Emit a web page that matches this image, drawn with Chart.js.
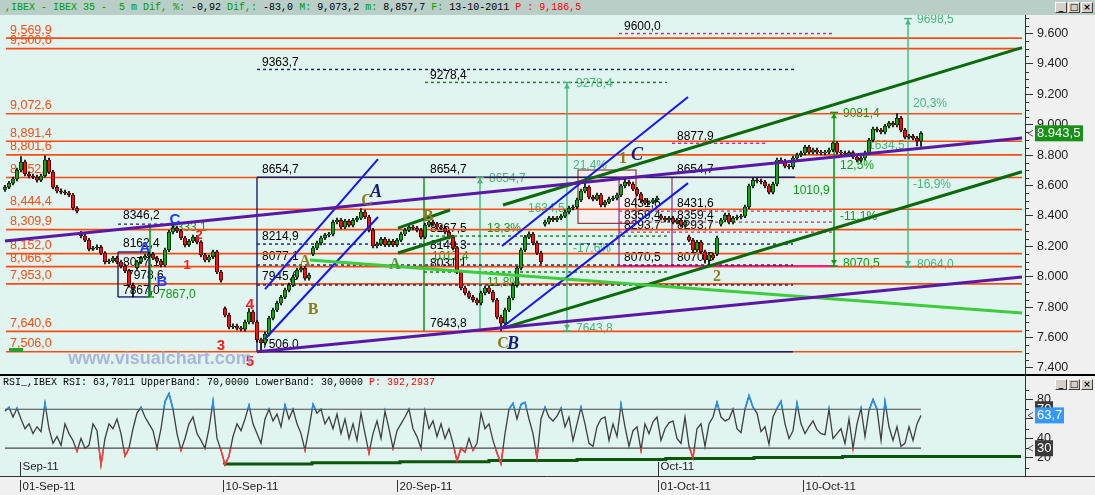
<!DOCTYPE html>
<html>
<head>
<meta charset="utf-8">
<title>IBEX 35 - 5 m</title>
<script src="https://cdn.jsdelivr.net/npm/chart.js@4.4.1/dist/chart.umd.min.js"></script>
<style>
  html,body{margin:0;padding:0;background:#f0f0f0;}
  #frame{position:relative;width:1095px;height:495px;overflow:hidden;background:#f0f0f0;}
  #topbar{position:absolute;left:0;top:0;width:1095px;height:15px;background:#b8cec7;}
  .mono{position:absolute;font-family:"Liberation Mono","DejaVu Sans Mono",monospace;font-size:10px;line-height:12px;white-space:pre;}
  #mainTitle{left:5px;top:2px;}
  #rsiTitle{left:3px;top:377px;color:#000;}
  .g{color:#009a00}.k{color:#000}.r{color:#ff0000}
  canvas{position:absolute;left:0;display:block;}
  #mainChart{top:15px;}
  #sep{position:absolute;left:0;top:374px;width:1095px;height:2px;background:#000;}
  #rsiChart{top:376px;}
  #lastMark{position:absolute;left:9px;top:348px;width:14px;height:4px;background:#2aa02a;}
  .btns{position:absolute;display:flex;gap:1px;}
  .btn{width:12px;height:11px;box-sizing:border-box;background:#d4d0c8;border:1px solid;border-color:#fff #404040 #404040 #fff;
       font:bold 9px "DejaVu Sans",sans-serif;line-height:8px;text-align:center;color:#000;}
</style>
</head>
<body>
<div id="frame">
  <div id="topbar"></div>
  <div id="mainTitle" class="mono"><span class="g">,IBEX - IBEX 35 -  5 m Dif, %:</span> <span class="k">-0,92</span> <span class="g">Dif,:</span> <span class="k">-83,0</span> <span class="g">M:</span> <span class="k">9,073,2</span> <span class="g">m:</span> <span class="k">8,857,7</span> <span class="g">F:</span> <span class="k">13-10-2011</span> <span class="r">P : 9,186,5</span></div>
  <div class="btns" style="left:1055px;top:2px;"><div class="btn">_</div><div class="btn">□</div><div class="btn">×</div></div>
  <canvas id="mainChart" width="1095" height="359"></canvas>
  <div id="lastMark"></div>
  <div id="sep"></div>
  <canvas id="rsiChart" width="1095" height="119"></canvas>
  <div id="rsiTitle" class="mono">RSI_,IBEX RSI: 63,7011 UpperBand: 70,0000 LowerBand: 30,0000 <span class="r">P: 392,2937</span></div>
  <div class="btns" style="left:1055px;top:379px;"><div class="btn">_</div><div class="btn">□</div><div class="btn">×</div></div>
</div>
<script>
// ---------- IBEX 35 bars (31 Aug - 13 Oct 2011) ----------
const opens = [
8575,8590,8616,8643,8702,8755,8676,8663,8656,8636,
8663,8768,8689,8590,8564,8557,8551,8538,8452,8285,
8268,8241,8182,8189,8195,8156,8097,8105,8123,8097,
8070,8038,7945,8060,8097,8123,8136,8149,8123,8103,
8077,8176,8294,8320,8301,8255,8209,8235,8261,8228,
8143,8110,8130,8163,8031,7790,7748,7669,7676,7662,
7655,7702,7768,7702,7584,7564,7623,7728,7781,7827,
7866,7912,7945,7998,8044,8057,7991,8150,8189,8222,
8255,8274,8280,8360,8373,8327,8366,8340,8373,8386,
8426,8393,8307,8202,8215,8248,8209,8235,8209,8241,
8281,8307,8327,8320,8307,8261,8340,8360,8347,8327,
8320,8294,8261,8189,8031,7926,7893,7866,7847,7827,
7893,7926,7899,7847,7735,7695,7781,7860,7945,8057,
8176,8261,8281,8222,8156,8345,8360,8386,8373,8386,
8399,8426,8452,8459,8505,8564,8590,8524,8511,8538,
8472,8491,8511,8518,8538,8597,8623,8610,8577,8544,
8505,8485,8491,8505,8400,8386,8373,8386,8360,8373,
8340,8262,8241,8176,8228,8163,8110,8143,8150,8345,
8373,8406,8360,8386,8393,8399,8459,8597,8636,8630,
8623,8597,8557,8610,8768,8760,8728,8722,8781,8801,
8814,8853,8820,8834,8820,8814,8820,8834,8880,8820,
8814,8808,8816,8788,8768,8781,8814,8899,8972,8965,
8952,8991,9011,8998,9044,8965,8919,8925,8912,8893];
const highs = [
8602,8628,8656,8715,8790,8768,8688,8676,8668,8676,
8795,8780,8700,8602,8578,8570,8562,8548,8462,8298,
8280,8252,8200,8210,8206,8166,8116,8135,8134,8108,
8082,8048,7958,8108,8134,8148,8162,8160,8134,8114,
8188,8305,8346,8333,8312,8266,8246,8274,8272,8238,
8154,8142,8176,8174,8042,7802,7760,7690,7688,7674,
7714,7790,7780,7712,7596,7636,7740,7793,7840,7878,
7925,7958,8010,8056,8075,8068,8024,8200,8234,8267,
8286,8292,8372,8386,8384,8378,8378,8385,8398,8448,
8438,8404,8318,8228,8260,8260,8247,8246,8252,8293,
8318,8340,8338,8332,8318,8352,8372,8372,8358,8338,
8332,8306,8272,8200,8042,7938,7905,7878,7860,7905,
7938,7938,7910,7858,7748,7793,7872,7958,8068,8188,
8273,8295,8292,8234,8168,8372,8398,8398,8397,8410,
8438,8464,8471,8517,8576,8615,8600,8536,8550,8549,
8503,8524,8530,8550,8608,8654.7,8635,8622,8588,8556,
8516,8500,8516,8530,8412,8398,8398,8397,8385,8384,
8372,8274,8252,8240,8240,8175,8155,8155,8267,8385,
8418,8418,8398,8405,8411,8471,8609,8648,8648,8642,
8635,8609,8622,8780,8782,8772,8740,8793,8813,8826,
8865,8865,8846,8846,8832,8832,8846,8887,8890,8832,
8826,8828,8828,8800,8793,8826,8911,8984,8984,8977,
9003,9023,9023,9073.2,9056,8977,8937,8937,8924,8955];
const lows = [
8562,8580,8604,8630,8690,8664,8650,8645,8622,8625,
8655,8678,8578,8552,8545,8540,8526,8440,8420,8255,
8230,8170,8172,8178,8145,8085,8086,8094,8086,8058,
8026,7932,7867,8048,8086,8112,8125,8112,8092,8064,
8066,8165,8282,8290,8244,8196,8198,8224,8216,8130,
8098,8098,8118,8020,7965,7736,7656,7658,7650,7643,
7642,7690,7690,7570,7506,7552,7610,7716,7770,7815,
7855,7900,7934,7986,8032,7978,7978,8138,8178,8210,
8244,8262,8268,8348,8315,8316,8328,8328,8362,8375,
8382,8295,8190,8190,8204,8197,8198,8197,8198,8230,
8270,8296,8308,8295,8249,8250,8328,8335,8315,8308,
8282,8249,8176,8020,7914,7880,7855,7835,7815,7815,
7880,7888,7835,7722,7643.8,7684,7770,7848,7932,8045,
8165,8250,8210,8145,8085,8333,8348,8362,8362,8375,
8388,8414,8440,8447,8494,8552,8512,8498,8500,8460,
8460,8480,8500,8506,8526,8585,8598,8566,8532,8493,
8474,8474,8480,8494,8374,8361,8362,8348,8348,8328,
8328,8230,8164,8164,8151,8090,8070.5,8111,8138,8333,
8361,8348,8348,8374,8381,8388,8448,8585,8618,8611,
8585,8545,8545,8598,8748,8716,8710,8710,8769,8790,
8802,8808,8808,8808,8802,8802,8808,8822,8808,8802,
8796,8796,8776,8756,8752,8769,8802,8887,8953,8940,
8940,8979,8986,8986,8953,8907,8907,8900,8860,8857.7];
const closes = [
8590,8616,8643,8702,8755,8676,8663,8656,8636,8663,
8768,8689,8590,8564,8557,8551,8538,8452,8432,8268,
8241,8182,8189,8195,8156,8097,8105,8123,8097,8070,
8038,7945,7926,8097,8123,8136,8149,8123,8103,8077,
8176,8294,8320,8301,8255,8209,8235,8261,8228,8143,
8110,8130,8163,8031,7978,7748,7669,7676,7662,7655,
7702,7768,7702,7584,7564,7623,7728,7781,7827,7866,
7912,7945,7998,8044,8057,7991,8011,8189,8222,8255,
8274,8280,8360,8373,8327,8366,8340,8373,8386,8426,
8393,8307,8202,8215,8248,8209,8235,8209,8241,8281,
8307,8327,8320,8307,8261,8340,8360,8347,8327,8320,
8294,8261,8189,8031,7926,7893,7866,7847,7827,7893,
7926,7899,7847,7735,7695,7781,7860,7945,8057,8176,
8261,8281,8222,8156,8097,8360,8386,8373,8386,8399,
8426,8452,8459,8505,8564,8590,8524,8511,8538,8472,
8491,8511,8518,8538,8597,8623,8610,8577,8544,8505,
8485,8491,8505,8518,8386,8373,8386,8360,8373,8340,
8360,8241,8176,8228,8163,8110,8143,8123,8255,8373,
8406,8360,8386,8393,8399,8459,8597,8636,8630,8623,
8597,8557,8610,8768,8760,8728,8722,8781,8801,8814,
8853,8820,8834,8820,8814,8820,8834,8880,8820,8814,
8808,8816,8788,8768,8781,8814,8899,8972,8965,8952,
8991,9011,8998,9044,8965,8919,8925,8912,8893,8943.5];
// RSI(14) on the same bars
const rsiValues = [
68,72,62,71,60,50,55,45,52,47,
76,50,35,42,33,55,45,38,27,40,
30,33,55,48,13,40,55,50,60,45,
22,30,50,66,72,62,55,48,30,50,
78,86,70,45,28,40,55,62,45,38,
30,50,78,40,28,13,22,42,55,48,
60,74,55,45,35,60,70,58,65,52,
74,60,70,55,45,28,50,75,66,70,
55,62,50,65,45,60,40,55,38,66,
45,25,45,58,40,68,50,30,48,55,
62,70,50,42,30,68,50,58,42,55,
40,50,35,17,30,26,40,28,35,66,
50,55,38,25,14,45,70,76,60,75,
77,60,45,20,60,72,62,58,63,71,
52,62,38,55,72,55,35,32,52,60,
62,38,55,42,75,52,32,48,52,28,
55,45,57,62,38,50,56,58,40,35,
62,32,20,50,55,32,55,62,77,62,
58,60,70,50,46,70,84,72,66,47,
52,34,62,71,78,55,40,48,76,55,
45,52,58,49,45,44,70,40,45,50,
35,60,30,55,71,42,69,80,70,38,
78,52,38,52,32,35,52,38,55,63.7];

// horizontal support / resistance levels
const levelValues = [9569.9, 9500.6, 9072.6, 8891.4, 8801.6, 8652.8, 8444.4, 8309.9, 8152.0, 8066.3, 7953.0, 7640.6, 7506.0];
// axis ticks
const priceTicks = [7400, 7600, 7800, 8000, 8200, 8400, 8600, 8800, 9000, 9200, 9400, 9600];
const rsiTicks = [20, 40, 60, 80];
const dayTickBars = [3.75, 54.5, 98, 163.25, 199.5];
const dayTickLabels = ['01-Sep-11', '10-Sep-11', '20-Sep-11', '01-Oct-11', '10-Oct-11'];
const monthBars = [3.75, 163.25];
const monthLabels = ['Sep-11', 'Oct-11'];
// stepped RSI support line
const rsiSupport = [[54.9,13.2],[76.75,13.9],[98.75,15],[121,16],[143,17.4],[165.2,18.4],[187.25,19.4],[209.4,20.4],[231.5,21.5],[254,21.5]];

// ---------- drawing tools: [bar0, price0, bar1, price1, kind] ----------
const trendLines = [
  [0, 8235, 254.25, 8912, 'purple'],
  [63, 7506, 254.25, 7998, 'purple'],
  [76.25, 8110, 254.25, 7761, 'lime'],
  [124.5, 8472, 254.25, 9507, 'forest'],
  [124.5, 7662, 254.25, 8691, 'forest'],
  [65, 7919, 93.25, 8774, 'blue'],
  [65, 7590, 93.25, 8393, 'blue'],
  [124.25, 8202, 170.75, 9182, 'blue'],
  [123.75, 7656, 170.75, 8616, 'blue'],
  [98.25, 8320, 111.25, 8439, 'forest'],
  [98.25, 8156, 112, 8268, 'forest']
];
// [price, bar0, bar1, kind, label bars, label offset]
const hLines = [
  [9363.7, 63, 197.5, 'navyDash', [64.25], -7],
  [9278.4, 105, 165.5, 'greenDash', [106.25], -7],
  [9600.0, 153.5, 207, 'magentaDash', [154.75], -7],
  [8877.9, 166.75, 190, 'magentaDash', [168], -7],
  [8654.7, 63, 197.5, 'navy', [64.25, 106.25, 168], -8],
  [8214.9, 63, 197, 'navyDash', [64.25], -7],
  [8077.1, 63, 197, 'navyDash', [64.25], -8],
  [7945.6, 63, 197, 'navyDash', [64.25], -8],
  [7506.0, 63, 197, 'navy', [64.25], -7],
  [8267.5, 104.75, 165.5, 'greenDash', [106.25], -7],
  [8149.3, 0, 0, 'none', [106.25], -8],
  [8031.1, 104.75, 165.5, 'greenDash', [106.25], -8],
  [7643.8, 0, 0, 'none', [106.25], -7],
  [8431.6, 153.5, 207.5, 'magentaDash', [154.75, 168], -7],
  [8359.4, 153.5, 207.5, 'magentaDash', [154.75, 168], -6],
  [8293.7, 153.5, 207.5, 'magentaDash', [154.75, 168], -6],
  [8070.5, 153.5, 207.5, 'pink', [154.75, 168], -8],
  [8346.2, 28.25, 40, 'navyDash', [29.5], -8],
  [8162.4, 28.25, 36, 'navy', [29.5], -8],
  [7867.0, 28.25, 36, 'navy', [29.5], -6]
];
// [bar, price0, price1, kind, arrow at top, arrow at bottom]
const vLines = [
  [63, 7506, 8654.7, 'navy', 0, 0],
  [104.75, 7640.6, 8654.7, 'greenSolid', 0, 0],
  [153.5, 8070.5, 8654.7, 'plum', 0, 0],
  [166.75, 8070.5, 8654.7, 'plum', 0, 0],
  [28.25, 7867, 8162.4, 'navy', 0, 0],
  [36, 7867, 8162.4, 'navy', 0, 0],
  [118.75, 7643.8, 8654.7, 'measureLight', 1, 0],
  [140.5, 7643.8, 9278.4, 'measureLight', 1, 1],
  [207.25, 8070.5, 9081.4, 'measureDark', 1, 1],
  [225.75, 8064.0, 9698.5, 'measureLight', 1, 1],
  [36.25, 7867.0, 8333.1, 'measureDark', 0, 1]
];
// shaded consolidation box [bar0, bar1, priceTop, priceBottom]
const shadedBox = [143.25, 157.75, 8702, 8351];

const lineStyles = {
  level:        {color:'#ff4a12', width:1.6, order:12},
  purple:       {color:'#5a18a4', width:3,   order:1},
  lime:         {color:'#3ccc3c', width:3,   order:1},
  forest:       {color:'#0a6a0a', width:3,   order:1},
  blue:         {color:'#1414ff', width:2,   order:1},
  navy:         {color:'#1c1c6e', width:1.4, order:11},
  navyDash:     {color:'#1c1c6e', width:1.4, order:11, dash:[3,3]},
  greenDash:    {color:'#1a7a1a', width:1.4, order:11, dash:[3,3]},
  magentaDash:  {color:'#e0207f', width:1.4, order:11, dash:[3,3]},
  pink:         {color:'#ff1a8c', width:2,   order:11},
  plum:         {color:'#8a2a8a', width:1.2, order:11},
  greenSolid:   {color:'#118811', width:1.4, order:11},
  measureLight: {color:'#44b878', width:1.4, order:11},
  measureDark:  {color:'#129a12', width:1.6, order:11}
};

const textStyles = {
  lvl: {color:'#ff4a12', font:'12.5px "Liberation Sans", sans-serif'},
  blk: {color:'#000000', font:'12px "Liberation Sans", sans-serif'},
  lg:  {color:'#44b878', font:'12px "Liberation Sans", sans-serif'},
  dg:  {color:'#129a12', font:'12px "Liberation Sans", sans-serif'},
  wr:  {color:'#ff1a1a', font:'bold 15px "Liberation Sans", sans-serif'},
  wr2: {color:'#ff1a1a', font:'bold 13px "Liberation Sans", sans-serif'},
  wb:  {color:'#1e3cff', font:'bold 15px "Liberation Sans", sans-serif'},
  wn:  {color:'#1a1a7a', font:'italic bold 18px "Liberation Serif", serif'},
  wo:  {color:'#8c7a1c', font:'bold 16px "Liberation Serif", serif'},
  wg:  {color:'#4f9a2a', font:'bold 16px "Liberation Serif", serif'},
  wm:  {color:'rgba(150,160,215,0.75)', font:'bold 18px "Liberation Sans", sans-serif'}
};

// free text: [text, bar, price, style]
const freeNotes = [
  ['1017,4', 106.75, 8130, 'dg'],
  ['13,3%', 120.5, 8314, 'dg'],
  ['11,8%', 120.5, 7959, 'dg'],
  ['21,4%', 142, 8728, 'lg'],
  ['-17,6%', 142, 8182, 'lg'],
  ['1634,5', 130.75, 8445, 'lg'],
  ['12,5%', 208.75, 8730, 'dg'],
  ['1010,9', 197, 8566, 'dg'],
  ['-11,1%', 208.75, 8395, 'dg'],
  ['20,3%', 227, 9141, 'lg'],
  ['1634,5', 215.75, 8862, 'lg'],
  ['-16,9%', 227, 8603, 'lg'],
  ['8333,1', 41.25, 8320, 'dg'],
  ['8077,1', 29.5, 8090, 'blk'],
  ['7978,6', 30.5, 8010, 'blk']
];
// wave counts drawn on top of the bars
const waveNotes = [
  ['4', 61.25, 7814, 'wr'], ['3', 54, 7544, 'wr'], ['5', 61.25, 7439, 'wr'],
  ['2', 48.5, 8274, 'wr2'], ['1', 45.5, 8077, 'wr2'],
  ['C', 42.5, 8373, 'wb'], ['A', 35, 8189, 'wb'], ['B', 39.25, 7965, 'wb'],
  ['C', 90.5, 8498, 'wo'], ['A', 92.75, 8557, 'wn'],
  ['A', 75, 8097, 'wo'], ['B', 77, 7781, 'wo'],
  ['A', 97.5, 8077, 'wg'], ['B', 105.75, 8393, 'wo'],
  ['C', 124.5, 7557, 'wo'], ['B', 127, 7557, 'wn'],
  ['1', 154.5, 8774, 'wo'], ['C', 158, 8801, 'wn'],
  ['2', 178, 7998, 'wo'],
  ['www.visualchart.com', 38.75, 7459, 'wm']
];

// ---------- helpers ----------
const X_MIN = -1.25, X_MAX = 255;
const bars = closes.map((c, i) => i);
const fmtLevel = v => { const s = v.toFixed(1); return s[0] + ',' + s.slice(1).replace('.', ','); };
const fmtPlain = v => v.toFixed(1).replace('.', ',');
const fmtAxis = v => (v / 1000).toFixed(3);
const fmtBox = v => { const s = v.toFixed(1); return s[0] + '.' + s.slice(1).replace('.', ','); };

// fixed-width right axis with no label overhang padding
function fitRightAxis(s) {
  s.width = 70;
  s.paddingTop = 0; s.paddingBottom = 0; s.paddingLeft = 0; s.paddingRight = 0;
}

const annotationSets = [];
function addSegment(x0, y0, x1, y1, kind) {
  const st = lineStyles[kind];
  if (!st) return;
  annotationSets.push({
    type: 'line', data: [{x: x0, y: y0}, {x: x1, y: y1}],
    borderColor: st.color, borderWidth: st.width, borderDash: st.dash || [],
    pointRadius: 0, pointHoverRadius: 0, fill: false, tension: 0, order: st.order, borderCapStyle: 'butt'
  });
}
levelValues.forEach(v => addSegment(0.25, v, 254.25, v, 'level'));
hLines.forEach(h => addSegment(h[1], h[0], h[2], h[0], h[3]));
vLines.forEach(v => addSegment(v[0], v[1], v[0], v[2], v[3]));
trendLines.forEach(t => addSegment(t[0], t[1], t[2], t[3], t[4]));

// label lists built from the values they state
const underNotes = [];
levelValues.forEach(v => underNotes.push([fmtLevel(v), 1.25, v, 'lvl', 'left', -8]));
hLines.forEach(h => h[4].forEach(b => underNotes.push([fmtPlain(h[0]), b, h[0], 'blk', 'left', h[5]])));
vLines.forEach(v => {
  const st = v[3] === 'measureDark' ? 'dg' : 'lg';
  if (v[4]) underNotes.push([fmtPlain(v[2]), v[0] + 2.25, v[2], st, 'left', 1]);
  if (v[5]) underNotes.push([fmtPlain(v[1]), v[0] + 2.25, v[1], st, 'left', -2]);
});
freeNotes.forEach(n => underNotes.push([n[0], n[1], n[2], n[3], 'left', 0]));

function drawNotes(chart, list) {
  const {ctx, scales: {x, y}} = chart;
  ctx.save();
  ctx.textBaseline = 'middle';
  list.forEach(n => {
    const st = textStyles[n[3]];
    ctx.font = st.font; ctx.fillStyle = st.color; ctx.textAlign = n[4] || 'center';
    ctx.fillText(n[0], x.getPixelForValue(n[1]), y.getPixelForValue(n[2]) + (n[5] || 0));
  });
  ctx.restore();
}

const panelBg = {
  id: 'panelBg',
  beforeDraw(chart) {
    const {ctx, chartArea: a} = chart;
    ctx.save();
    ctx.fillStyle = '#f0f0f0'; ctx.fillRect(0, 0, chart.width, chart.height);
    ctx.fillStyle = '#e0f5ef'; ctx.fillRect(a.left, a.top, a.right - a.left, a.bottom - a.top);
    ctx.restore();
  }
};

function minorTicks(step, skip, len) {
  return {
    id: 'minorTicks',
    afterDraw(chart) {
      const s = chart.scales.y, ctx = chart.ctx;
      ctx.save(); ctx.strokeStyle = '#333'; ctx.lineWidth = 1; ctx.beginPath();
      for (let v = Math.ceil(s.min / step) * step; v <= s.max; v += step) {
        if (v % skip === 0) continue;
        const py = Math.round(s.getPixelForValue(v)) + 0.5;
        ctx.moveTo(s.left, py); ctx.lineTo(s.left + len, py);
      }
      ctx.stroke(); ctx.restore();
    }
  };
}

function valueBox(ctx, yScale, value, text, bg, width, arrow) {
  const py = yScale.getPixelForValue(value);
  const x0 = yScale.left + 10;
  ctx.fillStyle = bg; ctx.fillRect(x0, py - 8, width, 16);
  ctx.fillStyle = '#ffffff'; ctx.font = '13px "Liberation Sans", sans-serif';
  ctx.textAlign = 'left'; ctx.textBaseline = 'middle';
  ctx.fillText(text, x0 + 2, py + 0.5);
  if (arrow) {
    ctx.strokeStyle = '#555'; ctx.lineWidth = 1; ctx.beginPath();
    ctx.moveTo(yScale.left + 8, py - 3); ctx.lineTo(yScale.left + 3, py); ctx.lineTo(yScale.left + 8, py + 3);
    ctx.stroke();
  }
}

const mainDecor = {
  id: 'mainDecor',
  beforeDatasetsDraw(chart) {
    const {ctx, scales: {x, y}} = chart;
    const l = x.getPixelForValue(shadedBox[0]), r = x.getPixelForValue(shadedBox[1]);
    const t = y.getPixelForValue(shadedBox[2]), b = y.getPixelForValue(shadedBox[3]);
    ctx.save();
    ctx.fillStyle = '#f5efee'; ctx.fillRect(l, t, r - l, b - t);
    ctx.strokeStyle = '#8b3a3a'; ctx.lineWidth = 1.2; ctx.strokeRect(l, t, r - l, b - t);
    ctx.restore();
    drawNotes(chart, underNotes);
  },
  afterDatasetsDraw(chart) {
    const {ctx, scales: {x, y}} = chart;
    ctx.save();
    vLines.forEach(v => {
      const st = lineStyles[v[3]];
      const px = x.getPixelForValue(v[0]);
      ctx.strokeStyle = st.color; ctx.fillStyle = st.color; ctx.lineWidth = 1.4;
      [[v[4], v[2], 1], [v[5], v[1], -1]].forEach(([on, val, dir]) => {
        if (!on) return;
        const py = y.getPixelForValue(val);
        ctx.beginPath(); ctx.moveTo(px - 4, py); ctx.lineTo(px + 4, py); ctx.stroke();
        ctx.beginPath(); ctx.moveTo(px, py + dir * 1); ctx.lineTo(px - 3, py + dir * 6); ctx.lineTo(px + 3, py + dir * 6); ctx.closePath(); ctx.fill();
      });
    });
    ctx.restore();
    drawNotes(chart, waveNotes);
  },
  afterDraw(chart) {
    const ctx = chart.ctx;
    ctx.save();
    valueBox(ctx, chart.scales.y, closes[closes.length - 1], fmtBox(closes[closes.length - 1]), '#169016', 48, true);
    ctx.restore();
  }
};

const wickSet = {
  type: 'bar', data: bars.map(i => ({x: i, y: [lows[i], highs[i]]})),
  backgroundColor: '#000000', barThickness: 1, grouped: false, order: 6
};
const bodySet = {
  type: 'bar', data: bars.map(i => ({x: i, y: [opens[i], closes[i]]})),
  backgroundColor: c => closes[c.dataIndex] >= opens[c.dataIndex] ? '#12a812' : '#ff0c0c',
  borderColor: '#000000', borderWidth: 0.7, borderSkipped: false,
  barThickness: 3.4, grouped: false, order: 5
};

new Chart(document.getElementById('mainChart'), {
  type: 'bar',
  data: {datasets: [...annotationSets, wickSet, bodySet]},
  options: {
    responsive: false, animation: false, events: [], devicePixelRatio: 1,
    layout: {padding: 0, autoPadding: false},
    plugins: {legend: {display: false}, tooltip: {enabled: false}},
    scales: {
      x: {type: 'linear', min: X_MIN, max: X_MAX, display: false, offset: false},
      y: {
        type: 'linear', position: 'right', min: 7360, max: 9722,
        afterFit: fitRightAxis,
        afterBuildTicks(s) { s.ticks = priceTicks.map(v => ({value: v})); },
        grid: {drawOnChartArea: false, color: '#333', tickLength: 8, tickWidth: 1},
        border: {display: true, color: '#333', width: 1},
        ticks: {callback: v => fmtAxis(v), color: '#222', font: {family: 'Liberation Sans', size: 12.5}, padding: 4}
      }
    }
  },
  plugins: [panelBg, mainDecor, minorTicks(50, 200, 4)]
});

// ---------- RSI panel ----------
const rsiPoints = bars.map(i => ({x: i, y: rsiValues[i]}));
const bandClip = {
  id: 'bandClip',
  beforeDatasetDraw(chart, args) {
    const lab = chart.data.datasets[args.index].label;
    if (lab !== 'rsiHigh' && lab !== 'rsiLow') return;
    const {ctx, chartArea: a, scales: {y}} = chart;
    ctx.save(); ctx.beginPath();
    if (lab === 'rsiHigh') ctx.rect(a.left, a.top, a.right - a.left, y.getPixelForValue(70) - a.top);
    else { const p = y.getPixelForValue(30); ctx.rect(a.left, p, a.right - a.left, a.bottom - p); }
    ctx.clip();
  },
  afterDatasetDraw(chart, args) {
    const lab = chart.data.datasets[args.index].label;
    if (lab === 'rsiHigh' || lab === 'rsiLow') chart.ctx.restore();
  }
};
const rsiDecor = {
  id: 'rsiDecor',
  afterDraw(chart) {
    const {ctx, chartArea: a, scales: {x, y}} = chart;
    ctx.save();
    ctx.strokeStyle = '#333'; ctx.lineWidth = 1;
    ctx.beginPath(); ctx.moveTo(0, a.bottom + 0.5); ctx.lineTo(chart.width, a.bottom + 0.5); ctx.stroke();
    ctx.fillStyle = '#222'; ctx.font = '11.5px "Liberation Sans", sans-serif';
    ctx.textAlign = 'left'; ctx.textBaseline = 'middle';
    dayTickBars.forEach((b, k) => {
      const px = Math.round(x.getPixelForValue(b)) + 0.5;
      ctx.beginPath(); ctx.moveTo(px, a.bottom + 4); ctx.lineTo(px, a.bottom + 16); ctx.stroke();
      ctx.fillText(dayTickLabels[k], px + 2, a.bottom + 11);
    });
    monthBars.forEach((b, k) => {
      const px = Math.round(x.getPixelForValue(b)) + 0.5;
      ctx.beginPath(); ctx.moveTo(px, a.bottom - 14); ctx.lineTo(px, a.bottom); ctx.stroke();
      ctx.fillText(monthLabels[k], px + 2, a.bottom - 9);
    });
    valueBox(ctx, y, 70, '70', '#3a3a3a', 18, false);
    valueBox(ctx, y, 30, '30', '#3a3a3a', 18, true);
    const last = rsiValues[rsiValues.length - 1];
    valueBox(ctx, y, last, fmtPlain(last), '#3399ff', 29, true);
    ctx.restore();
  }
};

new Chart(document.getElementById('rsiChart'), {
  type: 'line',
  data: {datasets: [
    {label: 'upper', data: [{x: 0, y: 70}, {x: 229, y: 70}], borderColor: '#4a4a4a', borderWidth: 1.2, pointRadius: 0, order: 4},
    {label: 'lower', data: [{x: 0, y: 30}, {x: 229, y: 30}], borderColor: '#4a4a4a', borderWidth: 1.2, pointRadius: 0, order: 4},
    {label: 'support', data: rsiSupport.map(p => ({x: p[0], y: p[1]})), stepped: 'after', borderColor: '#0a560a', borderWidth: 3, pointRadius: 0, order: 3},
    {label: 'rsi', data: rsiPoints, borderColor: '#3e3e3e', borderWidth: 1.3, pointRadius: 0, order: 2},
    {label: 'rsiHigh', data: rsiPoints, borderColor: '#1e90ff', borderWidth: 1.5, pointRadius: 0, order: 1},
    {label: 'rsiLow', data: rsiPoints, borderColor: '#ff3b3b', borderWidth: 1.5, pointRadius: 0, order: 1}
  ]},
  options: {
    responsive: false, animation: false, events: [], devicePixelRatio: 1,
    layout: {padding: {top: 0, bottom: 19, left: 0, right: 0}, autoPadding: false},
    plugins: {legend: {display: false}, tooltip: {enabled: false}},
    scales: {
      x: {type: 'linear', min: X_MIN, max: X_MAX, display: false, offset: false},
      y: {
        type: 'linear', position: 'right', min: 1.5, max: 104.1,
        afterFit: fitRightAxis,
        afterBuildTicks(s) { s.ticks = rsiTicks.map(v => ({value: v})); },
        grid: {drawOnChartArea: false, color: '#333', tickLength: 8, tickWidth: 1},
        border: {display: true, color: '#333', width: 1},
        ticks: {color: '#222', font: {family: 'Liberation Sans', size: 12.5}, padding: 4}
      }
    }
  },
  plugins: [panelBg, bandClip, rsiDecor, minorTicks(10, 20, 4)]
});
</script>
</body>
</html>
